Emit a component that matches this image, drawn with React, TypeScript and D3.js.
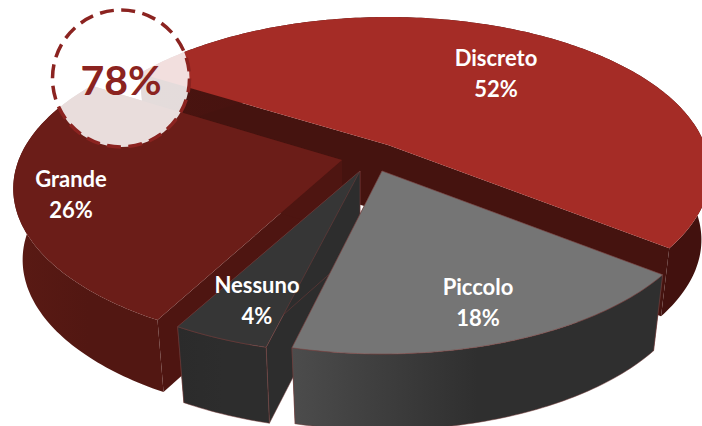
import React from 'react';
import * as d3 from 'd3';

const categories = ['Discreto', 'Piccolo', 'Nessuno', 'Grande'];
const shares = [52, 18, 4, 26];
const callout = '78%';

// slice apex on screen (each slice is pulled out by hand in the original)
const apexes: [number, number][] = [[388, 145], [382, 171], [360, 171], [342, 160]];
const radiusScale = [1, 1, 1, 1.02];
const depths = [68, 76, 76, 72];
// the original's 3D view skews the slice edges a little, degrees per edge
const startNudge = [2.2, 1.7, 3.2, 3.3];
const endNudge = [1.5, 2.6, 3.7, 3];
const labelSpots: [number, number][] = [[496, 59], [478, 288], [257, 286], [71, 180]];
const topColors = ['#a52c26', '#757575', '#363636', '#6b1d18'];
const faceColors = ['#45130f', '#2e2e2e', '#2d2d2d', '#4e1511'];
const wallStart = ['#4a1410', '#4c4c4c', '#2b2b2b', '#5a1a14'];
const wallEnd = ['#42110e', '#2f2f2f', '#2d2d2d', '#521712'];
const drawOrder = [0, 3, 2, 1];

const W = 702;
const H = 426;
const R = 317;
const RT = 150.6; // R * tilt
const K = 0.177; // perspective in depth
const M = 0.03; // perspective in height
const DEG = Math.PI / 180;

const pieGen = d3.pie<number>().sort(null).startAngle(-61 * DEG).endAngle(299 * DEG);

function project(apex: [number, number], a: number, r: number, z: number): [number, number] {
  const x = Math.sin(a) * r;
  const y = Math.cos(a) * r;
  const d = 1 + K * y + (M * z) / 76;
  return [apex[0] + (R * x) / d, apex[1] + (-RT * y) / (1 + K * y) + z];
}

const line = d3.line();

function arcPts(apex: [number, number], a0: number, a1: number, r: number, z: number) {
  const n = Math.max(8, Math.ceil((a1 - a0) / DEG));
  return d3.range(n + 1).map(i => project(apex, a0 + ((a1 - a0) * i) / n, r, z));
}

export default function App() {
  const arcs = pieGen(shares);
  return (
    <svg width={W} height={H} style={{ position: 'fixed', left: 0, top: 0, display: 'block', background: '#fff' }}>
      <defs>
        {categories.map((c, i) => (
          <linearGradient key={c} id={`wall${i}`} gradientUnits="objectBoundingBox" x1="0" x2="1" y1="0" y2="0">
            <stop offset="0" stopColor={wallStart[i]} />
            <stop offset="0.5" stopColor={wallEnd[i]} />
            <stop offset="1" stopColor={wallEnd[i]} />
          </linearGradient>
        ))}
      </defs>
      {drawOrder.map(i => {
        const a0 = arcs[i].startAngle + startNudge[i] * DEG;
        const a1 = arcs[i].endAngle + endNudge[i] * DEG;
        const apex = apexes[i];
        const top = arcPts(apex, a0, a1, radiusScale[i], 0);
        const bottom = arcPts(apex, a0, a1, radiusScale[i], depths[i]);
        const apexTop = project(apex, 0, 0, 0);
        const apexBottom = project(apex, 0, 0, depths[i]);
        const edge = i === 1 || i === 2 ? '#7a3f3c' : 'none';
        return (
          <g key={categories[i]}>
            <path d={line([apexTop, top[0], bottom[0], apexBottom])! + 'Z'} fill={faceColors[i]} stroke={edge} strokeWidth={0.5} />
            <path d={line([apexTop, top[top.length - 1], bottom[bottom.length - 1], apexBottom])! + 'Z'} fill={faceColors[i]} stroke={edge} strokeWidth={0.5} />
            <path d={line([...top, ...bottom.slice().reverse()])! + 'Z'} fill={`url(#wall${i})`} stroke={edge} strokeWidth={0.5} />
            <path d={line([apexTop, ...top])! + 'Z'} fill={topColors[i]} stroke={edge} strokeWidth={0.5} />
          </g>
        );
      })}
      {categories.map((c, i) => (
        <text key={c} textAnchor="middle" fill="#fff" fontFamily="Lato, sans-serif" fontWeight={700} fontSize={22}>
          <tspan x={labelSpots[i][0]} y={labelSpots[i][1] + 7}>{c}</tspan>
          <tspan x={labelSpots[i][0]} y={labelSpots[i][1] + 38}>{shares[i]}%</tspan>
        </text>
      ))}
      <circle cx={121} cy={78.5} r={68.5} fill="#fff" fillOpacity={0.85} stroke="#8b2320" strokeWidth={3.5} strokeDasharray="14 7.5" />
      <text x={121} y={95} textAnchor="middle" fill="#8b2320" fontFamily="Lato, sans-serif" fontWeight={700} fontSize={41}>{callout}</text>
    </svg>
  );
}
